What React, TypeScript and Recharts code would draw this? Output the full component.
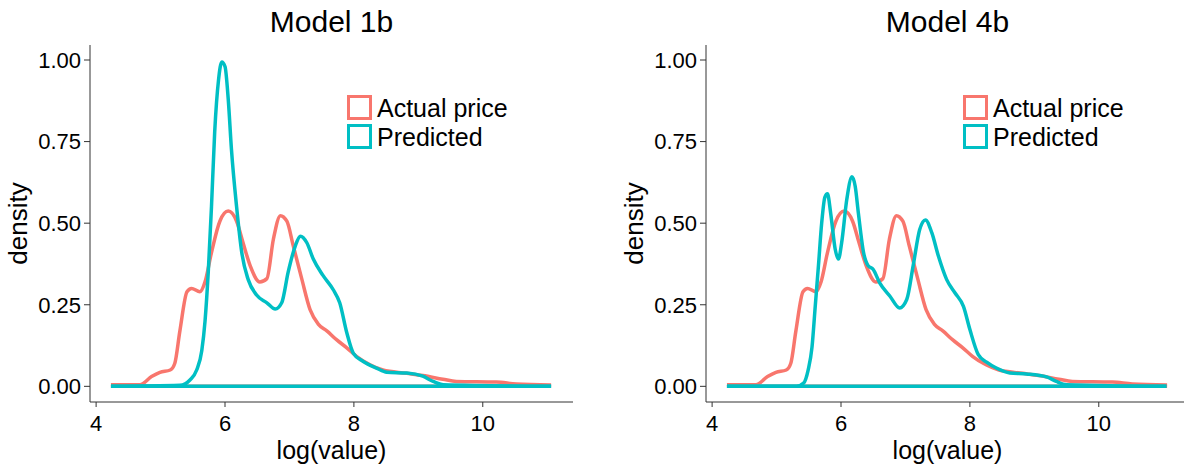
import { LineChart, Line, XAxis, YAxis, Legend } from "recharts";

// density estimate of log(value)
const actualX = [4.23, 4.68, 4.86, 4.99, 5.15, 5.22, 5.3, 5.41, 5.48, 5.61, 5.69, 5.79, 5.92, 6.05, 6.18, 6.28, 6.39, 6.54, 6.65, 6.75, 6.86, 6.96, 7.06, 7.19, 7.32, 7.45, 7.58, 7.73, 7.89, 8.04, 8.25, 8.45, 8.82, 9.07, 9.38, 9.59, 10.21, 10.52, 11.06];
const actualY = [0.005, 0.005, 0.03, 0.043, 0.05, 0.07, 0.17, 0.29, 0.3, 0.29, 0.32, 0.41, 0.506, 0.537, 0.506, 0.44, 0.37, 0.32, 0.33, 0.45, 0.523, 0.506, 0.43, 0.33, 0.235, 0.19, 0.17, 0.143, 0.118, 0.092, 0.066, 0.05, 0.04, 0.033, 0.022, 0.015, 0.013, 0.007, 0.004];

const model1bX = [4.23, 5.3, 5.46, 5.56, 5.64, 5.69, 5.74, 5.79, 5.84, 5.9, 5.95, 6.0, 6.05, 6.1, 6.18, 6.26, 6.36, 6.49, 6.65, 6.78, 6.88, 6.98, 7.09, 7.17, 7.27, 7.37, 7.52, 7.68, 7.78, 7.89, 7.99, 8.14, 8.35, 8.51, 8.82, 9.07, 9.23, 9.39, 11.06];
const model1bY = [0, 0.003, 0.02, 0.05, 0.11, 0.2, 0.35, 0.55, 0.78, 0.94, 0.994, 0.98, 0.88, 0.726, 0.55, 0.41, 0.327, 0.28, 0.256, 0.237, 0.256, 0.35, 0.43, 0.46, 0.44, 0.39, 0.34, 0.296, 0.256, 0.164, 0.102, 0.077, 0.056, 0.043, 0.041, 0.031, 0.015, 0.005, 0];

const model4bX = [4.23, 5.31, 5.42, 5.49, 5.55, 5.6, 5.65, 5.7, 5.75, 5.79, 5.84, 5.91, 5.96, 6.01, 6.09, 6.17, 6.22, 6.27, 6.35, 6.42, 6.5, 6.6, 6.76, 6.91, 7.02, 7.12, 7.22, 7.31, 7.41, 7.51, 7.64, 7.77, 7.9, 8.0, 8.13, 8.26, 8.41, 8.62, 8.88, 9.19, 9.34, 9.5, 11.05];
const model4bY = [0, 0, 0.01, 0.05, 0.12, 0.245, 0.37, 0.5, 0.58, 0.59, 0.53, 0.42, 0.39, 0.44, 0.573, 0.642, 0.613, 0.53, 0.41, 0.37, 0.358, 0.317, 0.276, 0.24, 0.266, 0.37, 0.48, 0.51, 0.47, 0.4, 0.327, 0.286, 0.245, 0.174, 0.097, 0.074, 0.056, 0.041, 0.038, 0.029, 0.015, 0.005, 0];

const xTicks = [4, 6, 8, 10];
const yTicks = [0, 0.25, 0.5, 0.75, 1];
const seriesNames = ["Actual price", "Predicted"];

const RED = "#F8766D";
const TEAL = "#00BFC4";
const FONT = "'Liberation Sans', Arial, sans-serif";

const zip = (xs: number[], ys: number[]) => xs.map((x, i) => ({ x, y: ys[i] }));
const baseline = (xs: number[]) => [
  { x: xs[0], y: 0 },
  { x: xs[xs.length - 1], y: 0 },
];

function KeyLegend(props: any) {
  const items = (props.payload || []).filter((p: any) => p.type !== "none");
  return (
    <div style={{ fontFamily: FONT, fontSize: 25, color: "#000" }}>
      {items.map((p: any) => (
        <div key={p.value} style={{ display: "flex", alignItems: "center", height: 29 }}>
          <div
            style={{
              width: 25,
              height: 25,
              boxSizing: "border-box",
              border: `3.5px solid ${p.color}`,
              marginRight: 5,
            }}
          />
          <span style={{ position: "relative", top: 1 }}>{p.value}</span>
        </div>
      ))}
    </div>
  );
}

function DensityLabel(props: any) {
  const vb = props.viewBox;
  const cx = vb.x + 27;
  const cy = vb.y + vb.height / 2;
  return (
    <text
      x={cx}
      y={cy}
      transform={`rotate(-90, ${cx}, ${cy})`}
      textAnchor="middle"
      fontSize={26}
      fontFamily={FONT}
      fill="#000"
    >
      density
    </text>
  );
}

function Panel({ title, left, predX, predY }: { title: string; left: number; predX: number[]; predY: number[] }) {
  const actual = zip(actualX, actualY);
  const pred = zip(predX, predY);
  return (
    <div style={{ position: "absolute", left, top: 0, width: 600, height: 464 }}>
      <div
        style={{
          position: "absolute",
          left: 90,
          width: 483,
          top: 6,
          textAlign: "center",
          fontFamily: FONT,
          fontSize: 30,
          lineHeight: "32px",
          color: "#000",
        }}
      >
        {title}
      </div>
      <LineChart width={600} height={464} margin={{ top: 45, right: 27, bottom: 0, left: 0 }}>
        <XAxis
          type="number"
          dataKey="x"
          domain={[3.905, 11.4]}
          ticks={xTicks}
          allowDataOverflow
          height={62}
          tickSize={5}
          tickMargin={8}
          stroke="#333"
          tick={{ fill: "#000", fontSize: 22, fontFamily: FONT }}
          label={{ value: "log(value)", position: "insideBottom", offset: 5, fontSize: 25, fontFamily: FONT, fill: "#000" }}
        />
        <YAxis
          type="number"
          dataKey="y"
          domain={[-0.048, 1.046]}
          ticks={yTicks}
          allowDataOverflow
          width={90}
          tickSize={6}
          tickMargin={3}
          stroke="#333"
          tickFormatter={(v: number) => v.toFixed(2)}
          tick={{ fill: "#000", fontSize: 22, fontFamily: FONT }}
          label={<DensityLabel />}
        />
        <Legend
          layout="vertical"
          align="center"
          verticalAlign="middle"
          wrapperStyle={{ left: 347, top: 93, width: "auto" }}
          content={<KeyLegend />}
        />
        <Line data={baseline(actualX)} dataKey="y" stroke={RED} strokeWidth={3.5} dot={false} legendType="none" isAnimationActive={false} />
        <Line data={actual} dataKey="y" name={seriesNames[0]} type="monotone" stroke={RED} strokeWidth={3.5} dot={false} isAnimationActive={false} />
        <Line data={baseline(predX)} dataKey="y" stroke={TEAL} strokeWidth={3.5} dot={false} legendType="none" isAnimationActive={false} />
        <Line data={pred} dataKey="y" name={seriesNames[1]} type="monotone" stroke={TEAL} strokeWidth={3.5} dot={false} isAnimationActive={false} />
      </LineChart>
    </div>
  );
}

export default function App() {
  return (
    <div style={{ position: "absolute", left: 0, top: 0, width: 1184, height: 464, overflow: "hidden", background: "#fff" }}>
      <Panel title="Model 1b" left={0} predX={model1bX} predY={model1bY} />
      <Panel title="Model 4b" left={616} predX={model4bX} predY={model4bY} />
    </div>
  );
}
